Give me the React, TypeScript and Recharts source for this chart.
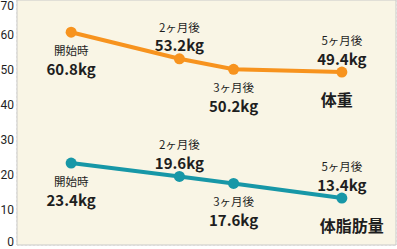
import { LineChart, Line, XAxis, YAxis, CartesianGrid, LabelList, ReferenceArea } from "recharts";

// 経過月（横位置）と各時点の見出し
const MONTHS = [0, 2, 3, 5];
const STAGES = ["開始時", "2ヶ月後", "3ヶ月後", "5ヶ月後"];
const WEIGHT = [60.8, 53.2, 50.2, 49.4];
const FAT = [23.4, 19.6, 17.6, 13.4];
const Y_TICKS = [0, 10, 20, 30, 40, 50, 60, 70];
const X_TICKS = [-1, 0, 1, 2, 3, 4, 5, 6];

// ラベルを点の上下どちらに置くか
const WEIGHT_SIDE = ["below", "above", "below", "above"];
const FAT_SIDE = ["below", "above", "below", "above"];

const rows = MONTHS.map((m, i) => ({
  month: m,
  stage: STAGES[i],
  weight: WEIGHT[i],
  fat: FAT[i],
}));

const JP = { fontFamily: "'Noto Sans CJK JP', 'Noto Sans', sans-serif" };
const ORANGE = "#F7931E";
const TEAL = "#1797A7";
const INK = "#1E1E1E";

function makeLabel(sides: string[], name: string, nameDx: number) {
  return (props: any) => {
    const { x, y, index, value } = props;
    const below = sides[index] === "below";
    const capY = below ? y + 18 : y - 32;
    const valY = below ? y + 36 : y - 14;
    const last = index === sides.length - 1;
    return (
      <g style={JP}>
        <text x={x} y={capY} textAnchor="middle" dominantBaseline="central" fontSize={11.5} fill={INK}>
          {STAGES[index]}
        </text>
        <text x={x} y={valY} textAnchor="middle" dominantBaseline="central" fontSize={15} fontWeight={700} fill={INK}>
          {`${Number(value).toFixed(1)}kg`}
        </text>
        {last && (
          <text x={x + nameDx} y={y + 27} textAnchor="start" dominantBaseline="central" fontSize={16} fontWeight={700} fill={INK}>
            {name}
          </text>
        )}
      </g>
    );
  };
}

// 上下端の目盛り文字ははみ出さないよう内側に寄せる
function YTick({ x, y, payload }: any) {
  const cy = Math.min(Math.max(y, 6), 242);
  return (
    <text
      x={x}
      y={cy}
      textAnchor="end"
      dominantBaseline="central"
      fontSize={12}
      fill={INK}
      style={{ fontFamily: "Roboto, 'DejaVu Sans', sans-serif" }}
    >
      {payload.value}
    </text>
  );
}

export default function App() {
  return (
    <div style={{ position: "absolute", left: 0, top: 0, background: "#fff" }}>
      <LineChart width={397} height={249} data={rows} margin={{ top: 0, right: 1, left: 0, bottom: 4 }}>
        <ReferenceArea x1={-1} x2={6} y1={0} y2={70} fill="#F9F5E5" fillOpacity={1} stroke="#C9C9C9" strokeWidth={1} />
        <CartesianGrid stroke="#DEDBD2" strokeDasharray="2 2" />
        <XAxis dataKey="month" type="number" domain={[-1, 6]} ticks={X_TICKS} hide />
        <YAxis
          type="number"
          domain={[0, 70]}
          ticks={Y_TICKS}
          interval={0}
          width={17}
          axisLine={false}
          tickLine={false}
          tickSize={0}
          tickMargin={3}
          tick={<YTick />}
        />
        <Line
          dataKey="weight"
          stroke={ORANGE}
          strokeWidth={4}
          dot={{ r: 5.5, fill: ORANGE, stroke: ORANGE, strokeWidth: 0 }}
          isAnimationActive={false}
        >
          <LabelList dataKey="weight" content={makeLabel(WEIGHT_SIDE, "体重", -21)} />
        </Line>
        <Line
          dataKey="fat"
          stroke={TEAL}
          strokeWidth={4}
          dot={{ r: 5.5, fill: TEAL, stroke: TEAL, strokeWidth: 0 }}
          isAnimationActive={false}
        >
          <LabelList dataKey="fat" content={makeLabel(FAT_SIDE, "体脂肪量", -22)} />
        </Line>
      </LineChart>
    </div>
  );
}
